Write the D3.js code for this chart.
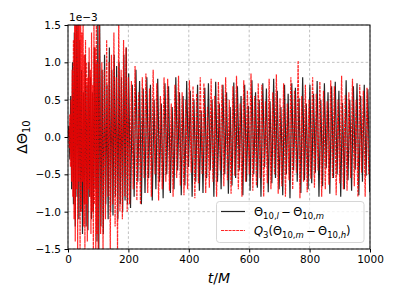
<!DOCTYPE html>
<html>
<head>
<meta charset="utf-8">
<script src="https://cdn.jsdelivr.net/npm/d3@7"></script>
<style>
  body { margin: 0; background: #fff; }
  svg { font-family: "DejaVu Sans", sans-serif; }
</style>
</head>
<body>
<svg id="chart" width="399" height="299"></svg>
<script>
// tick values (units of 1e-3 on y)
const xTicks = [0, 200, 400, 600, 800, 1000];
const yTicks = [-1.5, -1.0, -0.5, 0.0, 0.5, 1.0, 1.5];

// Theta_{10,l} - Theta_{10,m}, extremes
const tBlack = [
  0, 3, 6, 9, 12, 15, 18, 21, 24, 27, 30, 33, 36, 39, 42, 45, 48, 51, 54, 57,
  60, 63, 66, 69, 72, 75, 78, 81, 84, 87, 90, 93, 96, 99, 102, 105,
  109, 113, 117, 121, 125, 129, 133, 137, 141, 145, 149, 153, 157, 161, 165,
  169, 173, 177, 181, 185, 189, 193, 197,
  201, 207, 213, 219, 225, 231, 237, 243, 249, 255,
  261, 267, 273, 279, 285, 291, 297, 303, 309, 315,
  321, 327, 333, 339, 345, 351, 357, 363, 369, 375,
  381, 387, 393, 399, 405, 411, 417, 423, 429, 435,
  441, 447, 453, 459, 465, 471, 477, 483, 489, 495,
  501, 507, 513, 519, 525, 531, 537, 543, 549, 555,
  561, 567, 573, 579, 585, 591, 597, 603, 609, 615,
  621, 627, 633, 639, 645, 651, 657, 663, 669, 675,
  681, 687, 693, 699, 705, 711, 717, 723, 729, 735,
  741, 747, 753, 759, 765, 771, 777, 783, 789, 795,
  801, 807, 813, 819, 825, 831, 837, 843, 849, 855,
  861, 867, 873, 879, 885, 891, 897, 903, 909, 915,
  921, 927, 933, 939, 945, 951, 957, 963, 969, 975,
  981, 987, 993, 999
];
const vBlack = [
  0, 0.15, -0.3, 0.55, -0.7, 1.0, -0.9, 1.4, -1.2, 1.7,
  -0.8, 1.6, -1.1, 1.3, -1.0, 0.9, -1.3, 0.6, -0.9, 1.1,
  -1.2, 0.7, -1.25, 1.0, -0.8, 0.8, -1.1, 0.6, -1.0, 1.2,
  -0.7, 1.0, -1.4, 1.7, -1.6, 1.5, -1.2, 0.9, -1.3, 1.1,
  -0.9, 0.7, -1.1, 1.2, -1.0, 0.9, -1.05, 1.1, -0.8, 0.95,
  -1.1, 1.0, -0.9, 0.8, -1.0, 1.1, -0.85, 1.2, -0.9,
  0.85, -0.95, 0.7, -0.8, 0.9, -0.6, 0.75, -0.9, 0.65, -0.75,
  0.8, -0.55, 0.7, -0.85, 0.5, -0.7, 0.78, -0.6, 0.45, -0.82,
  0.72, -0.5, 0.68, -0.75, 0.4, -0.7, 0.8, -0.45, 0.6, -0.78,
  0.55, -0.65, 0.75, -0.4, 0.62, -0.8, 0.5, -0.6, 0.7, -0.72,
  0.35, -0.75, 0.66, -0.55, 0.72, -0.45, 0.5, -0.8, 0.74, -0.6,
  0.45, -0.7, 0.7, -0.5, 0.6, -0.76, 0.4, -0.65, 0.73, -0.55,
  0.68, -0.45, 0.55, -0.78, 0.7, -0.6, 0.42, -0.72, 0.76, -0.5,
  0.6, -0.68, 0.5, -0.8, 0.72, -0.4, 0.65, -0.74, 0.48, -0.62,
  0.78, -0.55, 0.62, -0.7, 0.4, -0.78, 0.7, -0.5, 0.58, -0.82,
  0.72, -0.45, 0.66, -0.6, 0.52, -0.75, 0.8, -0.58, 0.45, -0.7,
  0.7, -0.62, 0.58, -0.48, 0.75, -0.8, 0.5, -0.66, 0.72, -0.42,
  0.6, -0.76, 0.68, -0.55, 0.74, -0.5, 0.62, -0.8, 0.46, -0.7,
  0.76, -0.58, 0.5, -0.72, 0.68, -0.44, 0.72, -0.78, 0.55, -0.6,
  0.7, -0.52, 0.64, -0.74
];

// Q_3(Theta_{10,m} - Theta_{10,h})
const tRed = [
  0, 2, 4, 6, 8, 10, 12, 14, 16, 18, 20, 22, 24, 26, 28, 30, 32, 34, 36, 38,
  40, 42, 44, 46, 48, 50, 52, 54, 56, 58, 60, 62, 64, 66, 68, 70, 72, 74, 76, 78,
  80, 82, 84, 86, 88, 90, 92, 94, 96, 98, 100,
  104, 108, 112, 116, 120, 124, 128, 132, 136, 140, 144, 148, 152, 156, 160,
  164, 168, 172, 176, 180, 184, 188, 192, 196, 200,
  204, 210, 216, 222, 228, 234, 240, 246, 252, 258,
  264, 270, 276, 282, 288, 294, 300, 306, 312, 318,
  324, 330, 336, 342, 348, 354, 360, 366, 372, 378,
  384, 390, 396, 402, 408, 414, 420, 426, 432, 438,
  444, 450, 456, 462, 468, 474, 480, 486, 492, 498,
  504, 510, 516, 522, 528, 534, 540, 546, 552, 558,
  564, 570, 576, 582, 588, 594, 600, 606, 612, 618,
  624, 630, 636, 642, 648, 654, 660, 666, 672, 678,
  684, 690, 696, 702, 708, 714, 720, 726, 732, 738,
  744, 750, 756, 762, 768, 774, 780, 786, 792, 798,
  804, 810, 816, 822, 828, 834, 840, 846, 852, 858,
  864, 870, 876, 882, 888, 894, 900, 906, 912, 918,
  924, 930, 936, 942, 948, 954, 960, 966, 972, 978,
  984, 990, 996
];
const vRed = [
  0, 0.1, -0.15, 0.3, -0.4, 0.5, -0.6, 0.9, -0.8, 1.3,
  -1.1, 1.6, -1.4, 1.7, -0.7, 1.6, -1.5, 1.8, -0.6, 1.5,
  -1.6, 1.7, -1.0, 1.4, -0.6, 1.6, -1.2, 1.1, -1.5, 1.3,
  -0.9, 1.0, -1.4, 0.8, -0.7, 1.2, -0.8, 0.9, -1.3, 1.4,
  -1.0, 0.7, -1.6, 1.5, -0.9, 1.2, -1.7, 1.8, -1.3, 1.0,
  -1.6,
  1.6, -1.3, 1.0, -1.5, 0.9, -1.1, 1.3, -0.8, 1.0, -1.5,
  1.1, -0.9, 1.4, -1.2, 0.8, -1.5, 1.6, -1.0, 0.9, -1.1,
  1.3, -0.8, 1.2, -1.0, 0.8,
  -0.9, 0.75, -0.7, 0.95, -0.85, 0.6, -0.9, 0.8, -0.55, 0.85,
  -0.75, 0.65, -0.8, 0.9, -0.5, 0.72, -0.85, 0.55, -0.7, 0.8,
  -0.6, 0.78, -0.72, 0.45, -0.8, 0.7, -0.55, 0.82, -0.65, 0.6,
  -0.78, 0.5, -0.7, 0.76, -0.48, 0.68, -0.82, 0.58, -0.62, 0.8,
  -0.5, 0.72, -0.75, 0.4, -0.68, 0.78, -0.6, 0.55, -0.8, 0.74,
  -0.45, 0.7, -0.66, 0.8, -0.58, 0.5, -0.76, 0.68, -0.52, 0.82,
  -0.7, 0.45, -0.8, 0.76, -0.6, 0.62, -0.5, 0.85, -0.72, 0.55,
  -0.65, 0.72, -0.55, 0.7, -0.8, 0.48, -0.62, 0.78, -0.7, 0.6,
  -0.5, 0.84, -0.76, 0.52, -0.66, 0.72, -0.8, 0.45, -0.58, 0.8,
  -0.7, 0.62, -0.48, 1.02, -0.82, 0.55, -0.6, 0.7, -0.74, 0.5,
  -0.56, 0.8, -0.68, 0.58, -0.45, 0.74, -0.8, 0.62, -0.7, 0.48,
  -0.64, 0.76, -0.55, 0.68, -0.78, 0.5, -0.62, 0.82, -0.7, 0.56,
  -0.72, 0.6, -0.55, 0.78, -0.66, 0.5, -0.8, 0.7, -0.48, 0.62,
  -0.8, 0.66, -0.5
];

const size = { left: 68, right: 370, top: 25, bottom: 249 };
const svg = d3.select('#chart');

const xScale = d3.scaleLinear().domain([0, 1000]).range([size.left, size.right]);
const yScale = d3.scaleLinear().domain([-1.5, 1.5]).range([size.bottom, size.top]);

svg.append('defs').append('clipPath').attr('id', 'plotclip')
  .append('rect')
  .attr('x', size.left).attr('y', size.top)
  .attr('width', size.right - size.left).attr('height', size.bottom - size.top);

// grid
const grid = svg.append('g').attr('class', 'grid')
  .attr('stroke', '#b0b0b0').attr('stroke-width', 0.8).attr('stroke-dasharray', '2.6,2.2');
grid.selectAll('line.gx').data(xTicks).enter().append('line')
  .attr('x1', d => xScale(d)).attr('x2', d => xScale(d))
  .attr('y1', size.top).attr('y2', size.bottom);
grid.selectAll('line.gy').data(yTicks).enter().append('line')
  .attr('x1', size.left).attr('x2', size.right)
  .attr('y1', d => yScale(d)).attr('y2', d => yScale(d));

// series
const line = d3.line().x(d => xScale(d[0])).y(d => yScale(d[1]));
const plot = svg.append('g').attr('clip-path', 'url(#plotclip)');

plot.append('path')
  .datum(d3.zip(tBlack, vBlack))
  .attr('d', line)
  .attr('fill', 'none')
  .attr('stroke', 'black')
  .attr('stroke-opacity', 0.85)
  .attr('stroke-width', 1.2);

plot.append('path')
  .datum(d3.zip(tRed, vRed))
  .attr('d', line)
  .attr('fill', 'none')
  .attr('stroke', 'red')
  .attr('stroke-opacity', 0.85)
  .attr('stroke-width', 1.2)
  .attr('stroke-dasharray', '3,0.8');

// axes
const xAxis = svg.append('g').attr('class', 'x axis')
  .attr('transform', 'translate(0,' + size.bottom + ')')
  .call(d3.axisBottom(xScale).tickValues(xTicks).tickFormat(d3.format('d'))
    .tickSizeInner(3.5).tickSizeOuter(0).tickPadding(3.5));
xAxis.select('.domain').remove();
xAxis.selectAll('.tick text').attr('font-size', 10.5).attr('fill', 'black')
  .attr('font-family', '"DejaVu Sans", sans-serif');

const yAxis = svg.append('g').attr('class', 'y axis')
  .attr('transform', 'translate(' + size.left + ',0)')
  .call(d3.axisLeft(yScale).tickValues(yTicks).tickFormat(d3.format('.1f'))
    .tickSizeInner(3.5).tickSizeOuter(0).tickPadding(3.5));
yAxis.select('.domain').remove();
yAxis.selectAll('.tick text').attr('font-size', 10.5).attr('fill', 'black')
  .attr('font-family', '"DejaVu Sans", sans-serif');

// spines
svg.append('rect')
  .attr('x', size.left).attr('y', size.top)
  .attr('width', size.right - size.left).attr('height', size.bottom - size.top)
  .attr('fill', 'none').attr('stroke', 'black').attr('stroke-width', 1);

// offset text
svg.append('text').text('1e\u22123')
  .attr('x', size.left + 1).attr('y', 21)
  .attr('font-size', 10.5);

// axis labels
const xl = svg.append('text')
  .attr('x', (size.left + size.right) / 2).attr('y', 283)
  .attr('text-anchor', 'middle').attr('font-size', 14);
xl.append('tspan').text('t').attr('font-style', 'italic');
xl.append('tspan').text('/');
xl.append('tspan').text('M').attr('font-style', 'italic');

const yl = svg.append('text')
  .attr('transform', 'translate(27,' + ((size.top + size.bottom) / 2) + ') rotate(-90)')
  .attr('text-anchor', 'middle').attr('font-size', 14);
yl.append('tspan').text('\u0394\u0398');
yl.append('tspan').text('10').attr('font-size', 10).attr('dy', 3);

// legend
const lg = svg.append('g').attr('class', 'legend');
lg.append('rect')
  .attr('x', 216.5).attr('y', 201.5).attr('width', 147.5).attr('height', 41)
  .attr('rx', 3).attr('fill', 'white').attr('fill-opacity', 0.8)
  .attr('stroke', '#cccccc').attr('stroke-width', 0.8);
lg.append('line').attr('x1', 221).attr('x2', 245).attr('y1', 211.5).attr('y2', 211.5)
  .attr('stroke', 'black').attr('stroke-opacity', 0.85).attr('stroke-width', 1.2);
lg.append('line').attr('x1', 221).attr('x2', 245).attr('y1', 230.5).attr('y2', 230.5)
  .attr('stroke', 'red').attr('stroke-opacity', 0.85).attr('stroke-width', 1.2)
  .attr('stroke-dasharray', '3,0.8');

function sub(t, parts) {
  // parts: [text, italic, shift]  shift 1 = go to subscript, -1 = back to baseline
  parts.forEach(p => {
    const s = t.append('tspan').text(p[0]);
    if (p[1]) s.attr('font-style', 'italic');
    if (p[2] === 1) s.attr('font-size', 8.5).attr('dy', 2.5);
    if (p[2] === 0) s.attr('font-size', 8.5);
    if (p[2] === -1) s.attr('dy', -2.5);
  });
}
const l1 = lg.append('text').attr('x', 254).attr('y', 216).attr('font-size', 11.5);
sub(l1, [['\u0398'], ['10,', false, 1], ['l', true, 0], ['\u2009\u2212\u2009\u0398', false, -1],
         ['10,', false, 1], ['m', true, 0]]);
const l2 = lg.append('text').attr('x', 254).attr('y', 235).attr('font-size', 11.5);
sub(l2, [['Q', true], ['3', false, 1], ['(\u0398', false, -1], ['10,', false, 1], ['m', true, 0],
         ['\u2009\u2212\u2009\u0398', false, -1], ['10,', false, 1], ['h', true, 0], [')', false, -1]]);
</script>
</body>
</html>
